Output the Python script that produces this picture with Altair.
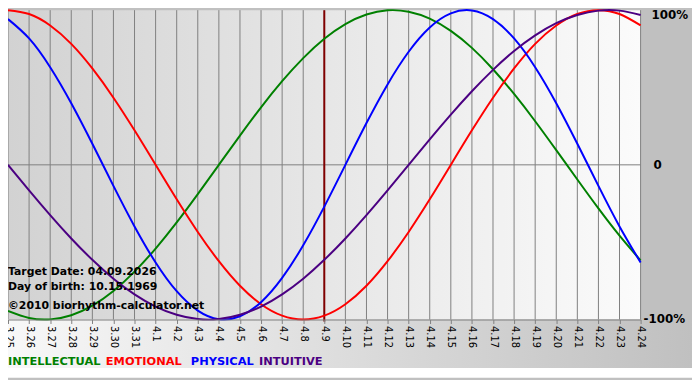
import altair as alt
import pandas as pd

dates = ["3.25", "3.26", "3.27", "3.28", "3.29", "3.30", "3.31",
         "4.1", "4.2", "4.3", "4.4", "4.5", "4.6", "4.7", "4.8", "4.9",
         "4.10", "4.11", "4.12", "4.13", "4.14", "4.15", "4.16", "4.17",
         "4.18", "4.19", "4.20", "4.21", "4.22", "4.23", "4.24"]

physical = [0.942, 0.817, 0.631, 0.398, 0.136, -0.136, -0.398, -0.631, -0.817, -0.942,
            -0.998, -0.979, -0.888, -0.731, -0.520, -0.270, 0.000, 0.270, 0.520, 0.731,
            0.888, 0.979, 0.998, 0.942, 0.817, 0.631, 0.398, 0.136, -0.136, -0.398, -0.631]
emotional = [1.000, 0.975, 0.901, 0.782, 0.623, 0.434, 0.223, 0.000, -0.223, -0.434,
             -0.623, -0.782, -0.901, -0.975, -1.000, -0.975, -0.901, -0.782, -0.623, -0.434,
             -0.223, 0.000, 0.223, 0.434, 0.623, 0.782, 0.901, 0.975, 1.000, 0.975, 0.901]
intellectual = [-0.945, -0.990, -0.999, -0.972, -0.910, -0.815, -0.690, -0.541, -0.372, -0.189,
                0.000, 0.189, 0.372, 0.541, 0.690, 0.815, 0.910, 0.972, 0.999, 0.990,
                0.945, 0.866, 0.756, 0.618, 0.458, 0.282, 0.095, -0.095, -0.282, -0.458, -0.618]
intuitive = [0.000, -0.165, -0.325, -0.476, -0.614, -0.736, -0.837, -0.916, -0.969, -0.997,
             -0.997, -0.969, -0.916, -0.837, -0.736, -0.614, -0.476, -0.325, -0.165, 0.000,
             0.165, 0.325, 0.476, 0.614, 0.736, 0.837, 0.916, 0.969, 0.997, 0.997, 0.969]

series_names = ["INTELLECTUAL", "EMOTIONAL", "PHYSICAL", "INTUITIVE"]
series_colors = ["#008000", "#ff0000", "#0000ff", "#4b0082"]
target_date = "4.9"
info_lines = ["Target Date: 04.09.2026", "Day of birth: 10.15.1969",
              "\u00a92010 biorhythm-calculator.net"]
pct_labels = ["100%", "0", "-100%"]

rows = []
for name, vals in zip(series_names, [intellectual, emotional, physical, intuitive]):
    for i, (d, v) in enumerate(zip(dates, vals)):
        rows.append({"date": d, "idx": i, "value": v, "series": name})
df = pd.DataFrame(rows)

W, H = 640, 313
PR, PB = 52, 59
FONT = "DejaVu Sans"

xscale = alt.Scale(type="point", domain=dates, padding=0)
yscale = alt.Scale(domain=[-1, 1], nice=False, zero=False)
one = alt.Data(values=[{}])

bg_plot = alt.Chart(one).mark_rect(
    fill=alt.Gradient(gradient="linear",
                      stops=[alt.GradientStop(color="#d2d2d2", offset=0),
                             alt.GradientStop(color="#fbfbfb", offset=1)],
                      x1=0, x2=1, y1=0, y2=0)
).encode(x=alt.value(0), x2=alt.value(W), y=alt.value(0), y2=alt.value(H))

bg_bottom = alt.Chart(one).mark_rect(
    fill=alt.Gradient(gradient="linear",
                      stops=[alt.GradientStop(color="#f8f8f8", offset=0),
                             alt.GradientStop(color="#c0c0c0", offset=1)],
                      x1=0, x2=1, y1=0, y2=0)
).encode(x=alt.value(0), x2=alt.value(W + PR), y=alt.value(H), y2=alt.value(H + 49))

bg_white = alt.Chart(one).mark_rect(fill="white").encode(
    x=alt.value(0), x2=alt.value(W + PR), y=alt.value(H + 49), y2=alt.value(H + PB))

grid = alt.Chart(pd.DataFrame({"date": dates})).mark_rule(
    color="#808080", strokeWidth=1
).encode(
    x=alt.X("date:O", scale=xscale,
            axis=alt.Axis(title=None, grid=False, domainColor="#808080",
                          tickColor="#808080", tickSize=4, labelAngle=90,
                          labelFont=FONT, labelFontSize=10, labelColor="#000000",
                          labelPadding=2, labelOverlap=False, zindex=1)),
    y=alt.value(0), y2=alt.value(H)
)

zero_rule = alt.Chart(pd.DataFrame({"v": [0]})).mark_rule(color="#808080").encode(
    x=alt.value(0), x2=alt.value(W), y=alt.Y("v:Q", scale=yscale, axis=None))

target = alt.Chart(pd.DataFrame({"date": [target_date]})).mark_rule(
    color="#800000", strokeWidth=2
).encode(x=alt.X("date:O", scale=xscale), y=alt.value(0), y2=alt.value(H + 2))

lines = alt.Chart(df).mark_line(strokeWidth=2, interpolate="natural").encode(
    x=alt.X("date:O", scale=xscale),
    y=alt.Y("value:Q", scale=yscale, axis=None),
    color=alt.Color("series:N", scale=alt.Scale(domain=series_names, range=series_colors),
                    legend=None),
    order=alt.Order("idx:Q"),
    detail="series:N",
)

texts = []
for t, yy in zip(info_lines, [268, 283, 302]):
    texts.append(alt.Chart(one).mark_text(
        text=t, align="left", baseline="alphabetic", font=FONT, fontWeight="bold",
        fontSize=11, color="#000000").encode(x=alt.value(0), y=alt.value(yy)))

for name, col, xx in zip(series_names, series_colors, [0, 99, 185, 254]):
    texts.append(alt.Chart(one).mark_text(
        text=name, align="left", baseline="alphabetic", font=FONT, fontWeight="bold",
        fontSize=11.5, color=col).encode(x=alt.value(xx), y=alt.value(359)))

pct_y = [0, H / 2, H]
pct_x = [W + 11, W + 13, W + 3]
pct_base = ["top", "middle", "middle"]
for lab, yy, xx, bl in zip(pct_labels, pct_y, pct_x, pct_base):
    texts.append(alt.Chart(one).mark_text(
        text=lab, align="left", baseline=bl, font=FONT, fontWeight="bold",
        fontSize=12, color="#000000").encode(x=alt.value(xx), y=alt.value(yy)))

chart = alt.layer(bg_plot, bg_bottom, bg_white, grid, zero_rule, target, lines, *texts).properties(
    width=W, height=H,
    padding={"left": 0, "top": 0, "right": PR, "bottom": PB},
    autosize=alt.AutoSizeParams(type="none"),
    background="#c0c0c0",
).configure_view(stroke=None)

chart.save("out.html", embed_options={"renderer": "svg", "actions": False})
